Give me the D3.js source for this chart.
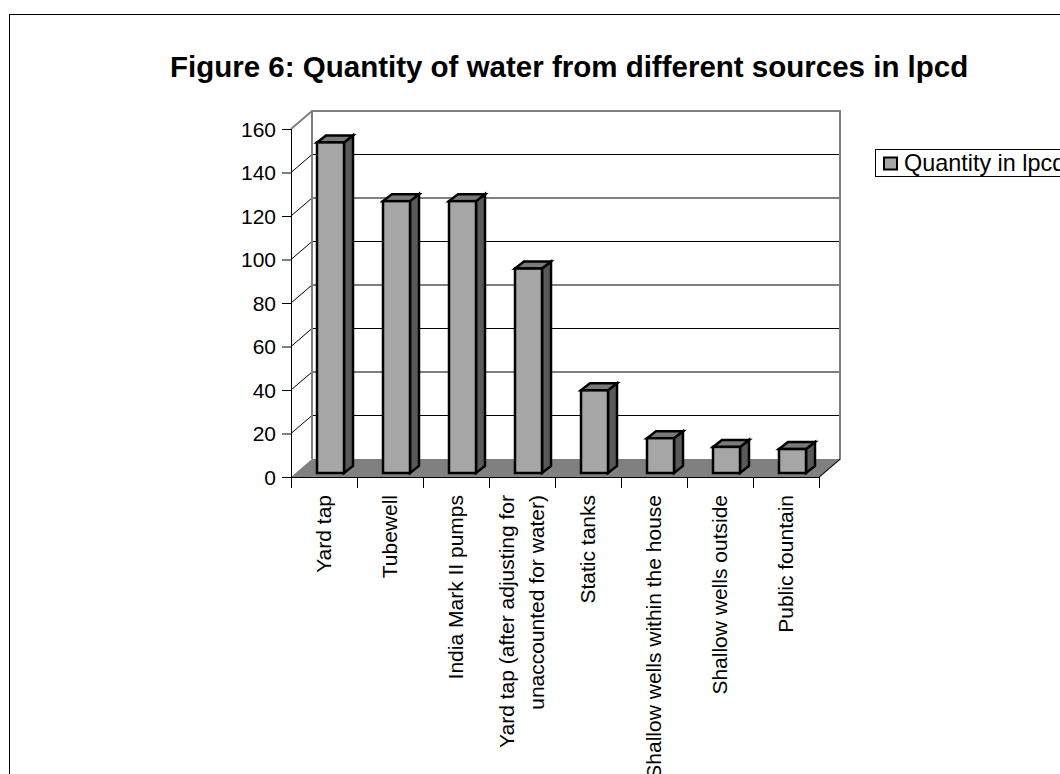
<!DOCTYPE html>
<html><head><meta charset="utf-8">
<script src="https://cdn.jsdelivr.net/npm/d3@7"></script>
<style>body{margin:0;background:#fff}svg{display:block;font-family:Arial,"Liberation Sans",sans-serif}</style>
</head><body><svg id="c" width="1060" height="774"></svg>
<script>
const categories = ["Yard tap","Tubewell","India Mark II pumps","Yard tap (after adjusting for\nunaccounted for water)","Static tanks","Shallow wells within the house","Shallow wells outside","Public fountain"];
const values = [152,125,125,94,38,16,12,11];
const yTicks = [0,20,40,60,80,100,120,140,160];
const seriesName = "Quantity in lpcd";
const titleText = "Figure 6: Quantity of water from different sources in lpcd";

const svg = d3.select("#c");
// frame
svg.append("rect").attr("x",9.5).attr("y",14.5).attr("width",1200).attr("height",900)
  .attr("fill","#fff").attr("stroke","#000").attr("stroke-width",1);

svg.append("text").attr("x",170).attr("y",77).attr("text-anchor","start")
  .attr("font-weight","bold").attr("font-size",29.5).text(titleText);

const x = d3.scaleBand().domain(categories).range([291,819]).padding(0);
const y = d3.scaleLinear().domain([0,160]).range([477,129]);
const D = {dx:21, dy:-18};       // wall depth
const F = {dx:4.5, dy:-4};       // bar front plane
const B = {dx:9, dy:-7};         // bar depth
const x0 = 291, x1 = 819;

const g = svg.append("g");
yTicks.filter(t=>t>0 && t<160).forEach(t=>{
  g.append("line").attr("x1",x0+D.dx).attr("x2",x1+D.dx).attr("y1",y(t)+D.dy).attr("y2",y(t)+D.dy)
   .attr("stroke","#000").attr("stroke-width",1);
  g.append("line").attr("x1",x0).attr("x2",x0+D.dx).attr("y1",y(t)).attr("y2",y(t)+D.dy)
   .attr("stroke","#000").attr("stroke-width",1);
});
g.append("path").attr("d",`M${x0},${y(0)} L${x0+D.dx},${y(0)+D.dy} L${x1+D.dx},${y(0)+D.dy} L${x1},${y(0)} Z`)
  .attr("fill","#808080").attr("stroke","none");
g.append("path").attr("d",`M${x0},${y(160)} L${x0+D.dx},${y(160)+D.dy} L${x1+D.dx},${y(160)+D.dy} L${x1+D.dx},${y(0)+D.dy} L${x1},${y(0)}`)
  .attr("fill","none").attr("stroke","#808080").attr("stroke-width",2);
g.append("line").attr("x1",x0+D.dx).attr("x2",x0+D.dx).attr("y1",y(160)+D.dy).attr("y2",y(0)+D.dy)
  .attr("stroke","#808080").attr("stroke-width",2);

// bars
const bw = 27;
categories.forEach((c,i)=>{
  const v = values[i];
  const fx = x(c) + x.bandwidth()/2 - bw/2 + F.dx + 2;
  const fyTop = y(v) + F.dy, fyBot = y(0) + F.dy;
  const bg = svg.append("g").attr("stroke","#000").attr("stroke-width",2.5).attr("stroke-linejoin","miter");
  bg.append("path").attr("d",`M${fx+bw},${fyTop} L${fx+bw+B.dx},${fyTop+B.dy} L${fx+bw+B.dx},${fyBot+B.dy} L${fx+bw},${fyBot} Z`).attr("fill","#595959");
  bg.append("path").attr("d",`M${fx},${fyTop} L${fx+B.dx},${fyTop+B.dy} L${fx+bw+B.dx},${fyTop+B.dy} L${fx+bw},${fyTop} Z`).attr("fill","#7a7a7a");
  bg.append("rect").attr("x",fx).attr("y",fyTop).attr("width",bw).attr("height",fyBot-fyTop).attr("fill","#a6a6a6");
});

// y axis
const ya = svg.append("g");
ya.append("line").attr("x1",x0+0.5).attr("x2",x0+0.5).attr("y1",y(160)).attr("y2",y(0)+11).attr("stroke","#000");
yTicks.forEach(t=>{
  ya.append("line").attr("x1",x0-9).attr("x2",x0).attr("y1",y(t)+0.5).attr("y2",y(t)+0.5).attr("stroke","#000");
  ya.append("text").attr("x",x0-15).attr("y",y(t)).attr("dy","0.36em").attr("text-anchor","end")
    .attr("font-size",21).text(t);
});
// x axis
const xa = svg.append("g");
xa.append("line").attr("x1",x0).attr("x2",x1).attr("y1",y(0)+0.5).attr("y2",y(0)+0.5).attr("stroke","#000");
xa.append("line").attr("x1",x1).attr("x2",x1+D.dx).attr("y1",y(0)).attr("y2",y(0)+D.dy).attr("stroke","#000");
categories.concat(["_end"]).forEach((c,i)=>{
  const xx = (i<categories.length? x(c) : x1) + 0.5;
  xa.append("line").attr("x1",xx).attr("x2",xx).attr("y1",y(0)).attr("y2",y(0)+11).attr("stroke","#000");
});
categories.forEach(c=>{
  const lines = c.split("\n");
  const cx = x(c) + x.bandwidth()/2;
  const t = xa.append("text").attr("transform",`translate(${cx},495) rotate(-90)`)
    .attr("text-anchor","end").attr("font-size",21);
  const lh = 1.42;
  lines.forEach((l,j)=>{
    t.append("tspan").attr("x",0).attr("y",0)
      .attr("dy",((j-(lines.length-1)/2)*lh + 0.35)+"em").text(l);
  });
});

// legend
const lg = svg.append("g");
lg.append("rect").attr("x",875.5).attr("y",149.5).attr("width",300).attr("height",27).attr("fill","#fff").attr("stroke","#000");
lg.append("rect").attr("x",884).attr("y",157.5).attr("width",13).attr("height",12).attr("fill","#a6a6a6").attr("stroke","#000").attr("stroke-width",2);
lg.append("text").attr("x",904).attr("y",163).attr("dy","0.36em").attr("font-size",23.4).text(seriesName);
</script></body></html>
